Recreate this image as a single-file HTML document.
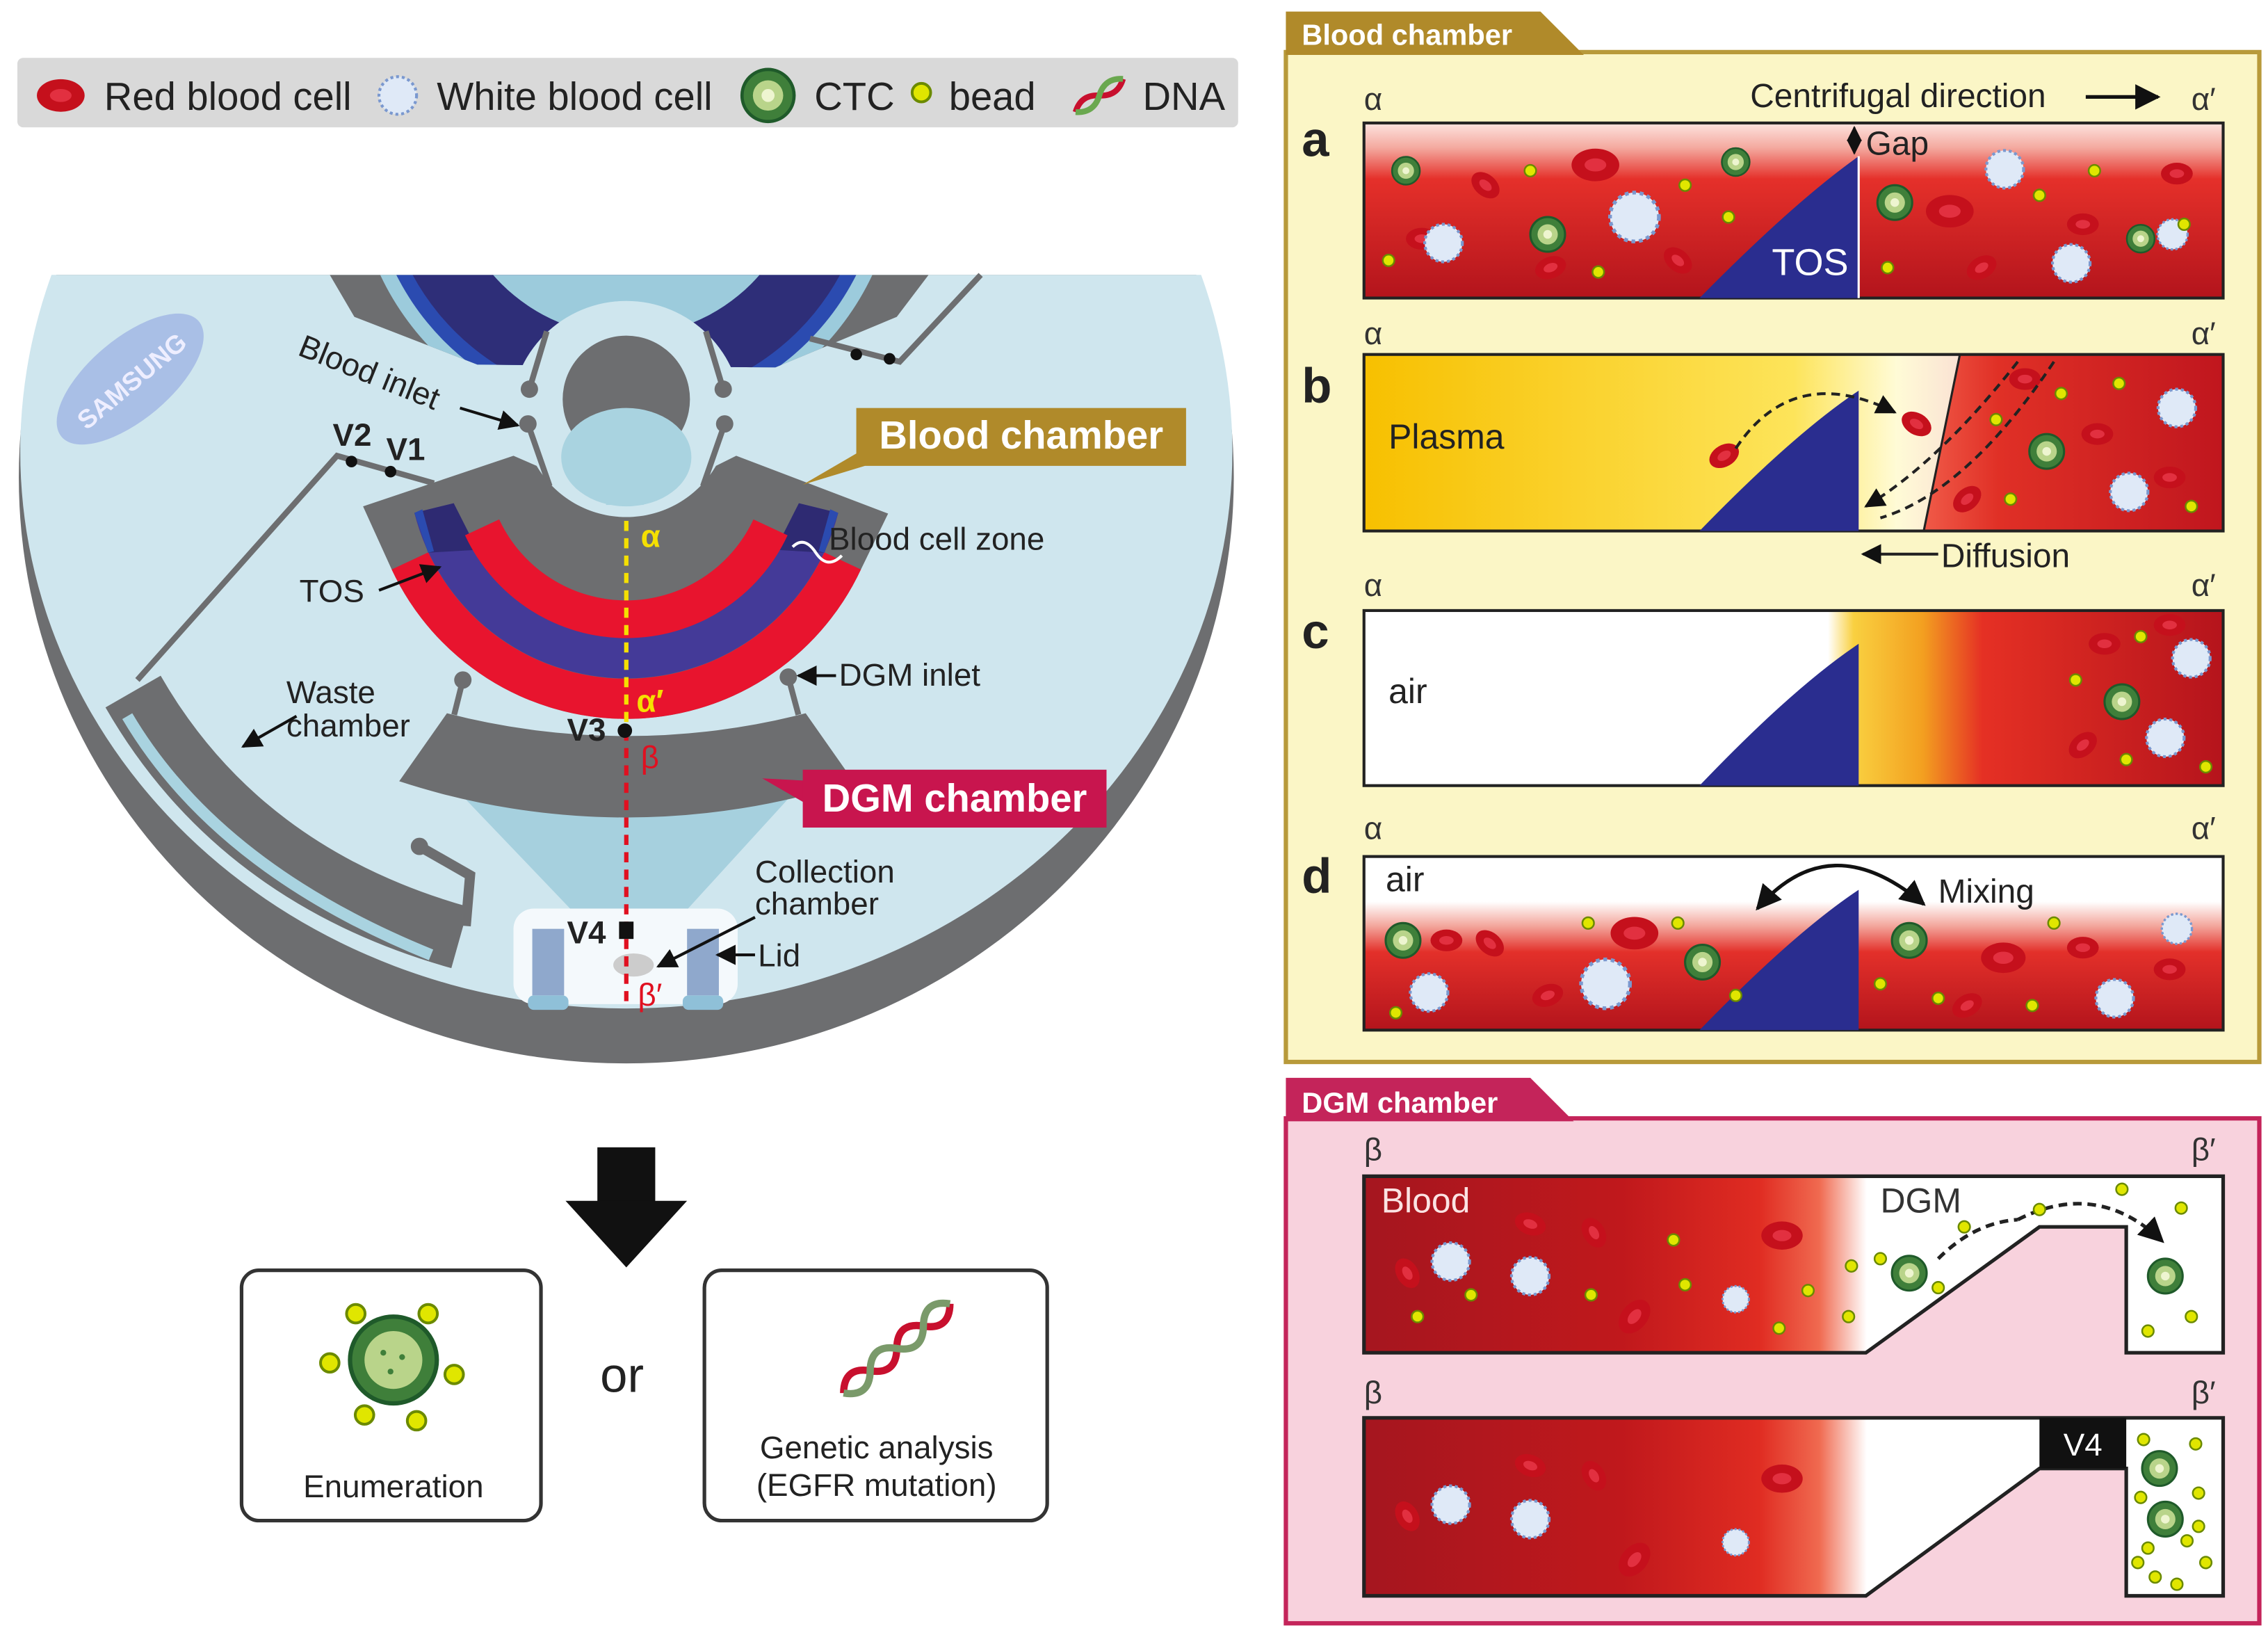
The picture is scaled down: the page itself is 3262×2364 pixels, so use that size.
<!DOCTYPE html>
<html><head><meta charset="utf-8"><style>
html,body{margin:0;padding:0;background:#fff;}
svg{display:block;}
text{font-family:"Liberation Sans",sans-serif;}
</style></head><body>
<svg width="3262" height="2364" viewBox="0 0 1568 1136.3" preserveAspectRatio="none" xmlns="http://www.w3.org/2000/svg">
<defs>
<symbol id="rbc" viewBox="-12 -8 24 16" overflow="visible"><ellipse rx="11" ry="7.5" fill="#c5101c"/><ellipse rx="5" ry="3" fill="#e23040"/></symbol>
<symbol id="wbc" viewBox="-14 -14 28 28" overflow="visible"><circle r="13" fill="#dfe9f7" stroke="#7a98cf" stroke-width="2" stroke-dasharray="2 2"/></symbol>
<symbol id="ctc" viewBox="-13 -13 26 26" overflow="visible"><circle r="12" fill="#3f7f3a" stroke="#1f5a2a" stroke-width="1.5"/><circle r="7" fill="#b9d48a"/><circle r="3" fill="#eef5d0"/></symbol>
<symbol id="bead" viewBox="-5 -5 10 10" overflow="visible"><circle r="4" fill="#e0e600" stroke="#6b8a00" stroke-width="1.2"/></symbol>
<linearGradient id="gA" x1="0" y1="0" x2="0" y2="1"><stop offset="0" stop-color="#fde3df"/><stop offset="0.14" stop-color="#f4aaa0"/><stop offset="0.32" stop-color="#e5302a"/><stop offset="1" stop-color="#b3141c"/></linearGradient>
<linearGradient id="gD" x1="0" y1="0" x2="0" y2="1"><stop offset="0" stop-color="#fff"/><stop offset="0.26" stop-color="#fff"/><stop offset="0.4" stop-color="#f3a69c"/><stop offset="0.55" stop-color="#e3302a"/><stop offset="1" stop-color="#b3141c"/></linearGradient>
<linearGradient id="gB" gradientUnits="userSpaceOnUse" x1="943" y1="0" x2="1537" y2="0"><stop offset="0" stop-color="#f7c000"/><stop offset="0.5" stop-color="#fde45a"/><stop offset="0.62" stop-color="#fffbd6"/><stop offset="0.7" stop-color="#fae0d4"/></linearGradient>
<linearGradient id="gR" gradientUnits="userSpaceOnUse" x1="1330" y1="0" x2="1537" y2="0"><stop offset="0" stop-color="#f05a48"/><stop offset="0.25" stop-color="#e03026"/><stop offset="1" stop-color="#c0161e"/></linearGradient>
<linearGradient id="gC" gradientUnits="userSpaceOnUse" x1="943" y1="0" x2="1537" y2="0"><stop offset="0" stop-color="#fff"/><stop offset="0.54" stop-color="#fff"/><stop offset="0.57" stop-color="#f9d040"/><stop offset="0.65" stop-color="#f3a020"/><stop offset="0.72" stop-color="#e53024"/><stop offset="1" stop-color="#b5141c"/></linearGradient>
<linearGradient id="gE" gradientUnits="userSpaceOnUse" x1="943" y1="0" x2="1537" y2="0"><stop offset="0" stop-color="#a5161f"/><stop offset="0.3" stop-color="#c0181c"/><stop offset="0.46" stop-color="#e02c22"/><stop offset="0.53" stop-color="#f06a50"/><stop offset="0.585" stop-color="#ffffff"/><stop offset="1" stop-color="#ffffff"/></linearGradient>
<clipPath id="discClip"><rect x="0" y="190" width="880" height="600"/></clipPath>
<clipPath id="bowlClip"><path d="M228,190 L245,219 L330,252 L536,254 L620,219 L642,190 Z"/></clipPath>
<marker id="ah" viewBox="0 0 10 10" refX="9" refY="5" markerWidth="7" markerHeight="7" orient="auto-start-reverse"><path d="M0,0 L10,5 L0,10 Z" fill="#111"/></marker>
</defs>
<rect width="1568" height="1136.3" fill="#fff"/>

<!-- legend -->
<rect x="12" y="40" width="844" height="48" rx="4" fill="#d9d9d9"/>
<use href="#rbc" x="-12" y="-8" width="24" height="16" transform="translate(42,66) scale(1.5)"/>
<text x="72" y="76" font-size="27" fill="#222">Red blood cell</text>
<use href="#wbc" transform="translate(275,66)" x="-14" y="-14" width="28" height="28"/>
<text x="302" y="76" font-size="27" fill="#222">White blood cell</text>
<use href="#ctc" transform="translate(531,66) scale(1.5)" x="-13" y="-13" width="26" height="26"/>
<text x="563" y="76" font-size="27" fill="#222">CTC</text>
<use href="#bead" transform="translate(637,64) scale(1.6)" x="-5" y="-5" width="10" height="10"/>
<text x="656" y="76" font-size="27" fill="#222">bead</text>
<g transform="translate(760,66) rotate(-35)"><path d="M-20,0 Q-10,-8 0,0 T20,0" stroke="#c8102e" stroke-width="4" fill="none"/><path d="M-20,0 Q-10,8 0,0 T20,0" stroke="#6aa84f" stroke-width="4" fill="none"/></g>
<text x="790" y="76" font-size="27" fill="#222">DNA</text>

<!-- disc -->
<g clip-path="url(#discClip)">
<ellipse cx="433" cy="330" rx="420" ry="405" fill="#6d6e70"/>
<ellipse cx="433" cy="312" rx="419" ry="385" fill="#cfe6ee"/>
<g clip-path="url(#bowlClip)">
<circle cx="433" cy="110" r="260" fill="#6d6e70"/>
<circle cx="433" cy="110" r="188" fill="#9ccbdc"/>
<circle cx="433" cy="110" r="178" fill="#2b4bb0"/>
<circle cx="433" cy="110" r="168" fill="#2e2e78"/>
<circle cx="433" cy="110" r="122" fill="#9ccbdc"/>
</g>
<circle cx="433" cy="288" r="80" fill="#cfe6ee"/>
</g>
<ellipse cx="90" cy="262" rx="62" ry="28" transform="rotate(-40 90 262)" fill="#a9bfe6"/>
<text x="90" y="270" font-size="18" fill="#eef" text-anchor="middle" transform="rotate(-40 90 262)" font-weight="bold">SAMSUNG</text>

<!-- channels -->
<path d="M95,470 L233,315 L300,334" fill="none" stroke="#6d6e70" stroke-width="4"/>
<circle cx="243" cy="319" r="4" fill="#111"/><circle cx="270" cy="326" r="4" fill="#111"/>
<path d="M560,234 L622,250 L678,190" fill="none" stroke="#6d6e70" stroke-width="4"/>
<circle cx="592" cy="245" r="4" fill="#111"/><circle cx="615" cy="248" r="4" fill="#111"/>

<!-- waste chamber -->
<path d="M92,478 Q165,605 318,648" fill="none" stroke="#6d6e70" stroke-width="44"/>
<path d="M88,495 Q150,600 298,660" fill="none" stroke="#a9d3e0" stroke-width="8"/>
<path d="M290,585 L325,605 L322,640" fill="none" stroke="#6d6e70" stroke-width="7"/>
<circle cx="290" cy="585" r="6" fill="#6d6e70"/>

<!-- funnel -->
<polygon points="310,540 556,540 472,632 398,632" fill="#a6d0de"/>
<!-- blood chamber fan -->
<path d="M251,350 L355,315 L371,322 A72 72 0 0 0 495,322 L509,315 L614,355 L595.2,393.6 A179 179 0 0 1 270.8,393.6 Z" fill="#6d6e70"/>
<path d="M270.8,393.6 A179 179 0 0 0 595.2,393.6 L569.9,381.8 A151 151 0 0 1 296.1,381.8 Z" fill="#e8142e"/>
<path d="M286.5,354.5 A151 151 0 0 0 579.5,354.5 L552.3,347.8 A123 123 0 0 1 313.7,347.8 Z" fill="#443a98"/>
<path d="M286.5,354.5 L313.7,347.8 L330,380 L296,382 Z" fill="#2e2a72"/>
<path d="M579.5,354.5 L552.3,347.8 L536,380 L570,382 Z" fill="#2e2a72"/>
<path d="M286.5,354.5 L292,352 L300,381 L296,382 Z" fill="#2b4bb0"/>
<path d="M579.5,354.5 L574,352 L566,381 L570,382 Z" fill="#2b4bb0"/>
<path d="M321.5,370 A123 123 0 0 0 544.5,370 L520.9,359 A97 97 0 0 1 345.1,359 Z" fill="#e8142e"/>
<!-- central circle -->
<circle cx="433" cy="276" r="44" fill="#6d6e70"/>
<ellipse cx="433" cy="316" rx="45" ry="34" fill="#a9d3e0"/>
<rect x="419" y="318" width="26" height="31" fill="#a9d3e0"/>
<path d="M378,229 L366,269 M365,293 L380,336 M488,229 L500,269 M501,293 L486,336" fill="none" stroke="#6d6e70" stroke-width="4"/>
<circle cx="366" cy="269" r="6" fill="#6d6e70"/><circle cx="365" cy="293" r="6" fill="#6d6e70"/>
<circle cx="500" cy="269" r="6" fill="#6d6e70"/><circle cx="501" cy="293" r="6" fill="#6d6e70"/>
<!-- DGM band -->
<path d="M309,493 A496 496 0 0 0 557,493 L590,540 A505 505 0 0 1 276,540 Z" fill="#6d6e70"/>
<circle cx="320" cy="470" r="6" fill="#6d6e70"/><path d="M320,470 L314,494" stroke="#6d6e70" stroke-width="4"/>
<circle cx="545" cy="468" r="6" fill="#6d6e70"/><path d="M545,468 L552,494" stroke="#6d6e70" stroke-width="4"/>
<!-- collection -->
<rect x="355" y="628" width="155" height="66" rx="14" fill="#f4f9fc"/>
<rect x="368" y="642" width="22" height="46" fill="#8fa8cc"/>
<rect x="475" y="642" width="22" height="46" fill="#8fa8cc"/>
<rect x="365" y="688" width="28" height="10" rx="4" fill="#8fc0d8"/>
<rect x="472" y="688" width="28" height="10" rx="4" fill="#8fc0d8"/>
<ellipse cx="438" cy="667" rx="14" ry="8" fill="#cccccc"/>
<!-- dashed axis -->
<line x1="433" y1="360" x2="433" y2="500" stroke="#f5e000" stroke-width="3" stroke-dasharray="7 5"/>
<line x1="433" y1="505" x2="433" y2="695" stroke="#e01020" stroke-width="3" stroke-dasharray="7 5"/>
<circle cx="432" cy="505" r="5" fill="#111"/>
<rect x="428" y="637" width="10" height="12" fill="#111"/>
<text x="443" y="378" font-size="22" fill="#f5e000" font-weight="bold">α</text>
<text x="440" y="492" font-size="22" fill="#f5e000" font-weight="bold">α′</text>
<text x="443" y="531" font-size="22" fill="#e01020">β</text>
<text x="441" y="695" font-size="22" fill="#e01020">β′</text>
<!-- labels -->
<g font-size="22" fill="#222">
<text x="205" y="245" transform="rotate(22 205 245)">Blood inlet</text>
<text x="230" y="308" font-weight="bold">V2</text><text x="267" y="318" font-weight="bold">V1</text>
<text x="573" y="380">Blood cell zone</text>
<text x="207" y="416">TOS</text>
<text x="198" y="486">Waste</text><text x="198" y="509">chamber</text>
<text x="580" y="474">DGM inlet</text>
<text x="392" y="512" font-weight="bold">V3</text>
<text x="392" y="652" font-weight="bold">V4</text>
<text x="522" y="610">Collection</text><text x="522" y="632">chamber</text>
<text x="524" y="668">Lid</text>
</g>
<g stroke="#111" stroke-width="2" fill="none" marker-end="url(#ah)">
<path d="M318,282 L358,294"/><path d="M262,408 L304,392"/><path d="M205,495 L168,516"/>
<path d="M578,467 L552,467"/><path d="M522,634 L455,668"/><path d="M522,660 L496,660"/>
</g>
<path d="M548,378 Q556,370 564,382 T582,384" stroke="#fff" stroke-width="2" fill="none"/>
<!-- callouts -->
<polygon points="598,310 598,322 555,335" fill="#b08a2a"/>
<rect x="592" y="282" width="228" height="40" fill="#b08a2a"/>
<text x="706" y="310" font-size="27" font-weight="bold" fill="#fff" text-anchor="middle">Blood chamber</text>
<polygon points="565,540 565,560 527,538" fill="#c8154e"/>
<rect x="555" y="532" width="210" height="40" fill="#c8154e"/>
<text x="660" y="561" font-size="27" font-weight="bold" fill="#fff" text-anchor="middle">DGM chamber</text>

<!-- bottom -->
<rect x="413" y="793" width="40" height="40" fill="#111"/>
<polygon points="391,830 475,830 433,876" fill="#111"/>
<rect x="167" y="878" width="207" height="173" rx="12" fill="#fff" stroke="#333" stroke-width="2.5"/>
<rect x="487" y="878" width="237" height="173" rx="12" fill="#fff" stroke="#333" stroke-width="2.5"/>
<text x="430" y="962" font-size="34" fill="#222" text-anchor="middle">or</text>
<circle cx="272" cy="940" r="30" fill="#3f7f3a" stroke="#1f5a2a" stroke-width="3"/>
<circle cx="272" cy="940" r="20" fill="#b9d48a"/>
<circle cx="265" cy="935" r="2" fill="#3f7f3a"/><circle cx="278" cy="938" r="2" fill="#3f7f3a"/><circle cx="270" cy="948" r="2" fill="#3f7f3a"/>
<g>
<use href="#bead" transform="translate(246,908) scale(1.6)" x="-5" y="-5" width="10" height="10"/>
<use href="#bead" transform="translate(296,908) scale(1.6)" x="-5" y="-5" width="10" height="10"/>
<use href="#bead" transform="translate(228,942) scale(1.6)" x="-5" y="-5" width="10" height="10"/>
<use href="#bead" transform="translate(314,950) scale(1.6)" x="-5" y="-5" width="10" height="10"/>
<use href="#bead" transform="translate(252,978) scale(1.6)" x="-5" y="-5" width="10" height="10"/>
<use href="#bead" transform="translate(288,982) scale(1.6)" x="-5" y="-5" width="10" height="10"/>
</g>
<text x="272" y="1035" font-size="22" fill="#222" text-anchor="middle">Enumeration</text>
<g transform="translate(620,932) rotate(-40)"><path d="M-48,0 Q-36,-14 -24,0 T0,0 T24,0 T48,0" stroke="#c8102e" stroke-width="5" fill="none"/><path d="M-48,0 Q-36,14 -24,0 T0,0 T24,0 T48,0" stroke="#7a9a6a" stroke-width="5" fill="none"/></g>
<text x="606" y="1008" font-size="22" fill="#222" text-anchor="middle">Genetic analysis</text>
<text x="606" y="1034" font-size="22" fill="#222" text-anchor="middle">(EGFR mutation)</text>

<!-- Blood chamber panel -->
<rect x="889" y="36" width="673" height="698" fill="#fbf6c6" stroke="#b89a3a" stroke-width="3"/>
<polygon points="889,8 1065,8 1095,38 889,38" fill="#b08a2a"/>
<text x="900" y="31" font-size="20" font-weight="bold" fill="#fff">Blood chamber</text>
<g font-size="34" font-weight="bold" fill="#222"><text x="900" y="108">a</text><text x="900" y="278">b</text><text x="900" y="448">c</text><text x="900" y="617">d</text><text x="900" y="842">e</text><text x="900" y="1012">f</text></g>
<g font-size="22" fill="#333">
<text x="943" y="76">α</text><text x="1515" y="76">α′</text>
<text x="943" y="238">α</text><text x="1515" y="238">α′</text>
<text x="943" y="412">α</text><text x="1515" y="412">α′</text>
<text x="943" y="580">α</text><text x="1515" y="580">α′</text>
</g>
<text x="1210" y="74" font-size="23" fill="#222">Centrifugal direction</text>
<line x1="1442" y1="67" x2="1492" y2="67" stroke="#111" stroke-width="2.5" marker-end="url(#ah)"/>

<!-- a -->
<rect x="943" y="85" width="594" height="121" fill="url(#gA)" stroke="#222" stroke-width="2"/>
<path d="M1175,206 Q1240,140 1285,108 L1285,206 Z" fill="#2a2d8f"/>
<line x1="1285" y1="108" x2="1285" y2="206" stroke="#fff" stroke-width="1.5"/>
<text x="1225" y="190" font-size="26" fill="#fff">TOS</text>
<line x1="1282" y1="88" x2="1282" y2="106" stroke="#111" stroke-width="1.5" marker-end="url(#ah)" marker-start="url(#ah)"/>
<text x="1290" y="107" font-size="23" fill="#222">Gap</text>
<g>
<use href="#rbc" x="-12" y="-8" width="24" height="16" transform="translate(1103,114) scale(1.5)"/>
<use href="#rbc" x="-12" y="-8" width="24" height="16" transform="translate(1027,128) rotate(40)"/>
<use href="#rbc" x="-12" y="-8" width="24" height="16" transform="translate(983,165)"/>
<use href="#rbc" x="-12" y="-8" width="24" height="16" transform="translate(1072,185) rotate(-20)"/>
<use href="#rbc" x="-12" y="-8" width="24" height="16" transform="translate(1160,180) rotate(40)"/>
<use href="#rbc" x="-12" y="-8" width="24" height="16" transform="translate(1348,146) scale(1.5)"/>
<use href="#rbc" x="-12" y="-8" width="24" height="16" transform="translate(1440,155)"/>
<use href="#rbc" x="-12" y="-8" width="24" height="16" transform="translate(1505,120)"/>
<use href="#rbc" x="-12" y="-8" width="24" height="16" transform="translate(1370,185) rotate(-30)"/>
<use href="#wbc" x="-14" y="-14" width="28" height="28" transform="translate(998,168)"/>
<use href="#wbc" x="-14" y="-14" width="28" height="28" transform="translate(1130,150) scale(1.3)"/>
<use href="#wbc" x="-14" y="-14" width="28" height="28" transform="translate(1386,117)"/>
<use href="#wbc" x="-14" y="-14" width="28" height="28" transform="translate(1432,182)"/>
<use href="#wbc" x="-14" y="-14" width="28" height="28" transform="translate(1502,162) scale(0.8)"/>
<use href="#ctc" x="-13" y="-13" width="26" height="26" transform="translate(972,118) scale(0.8)"/>
<use href="#ctc" x="-13" y="-13" width="26" height="26" transform="translate(1070,162)"/>
<use href="#ctc" x="-13" y="-13" width="26" height="26" transform="translate(1200,112) scale(0.8)"/>
<use href="#ctc" x="-13" y="-13" width="26" height="26" transform="translate(1310,140)"/>
<use href="#ctc" x="-13" y="-13" width="26" height="26" transform="translate(1480,165) scale(0.8)"/>
</g>
<g>
<use href="#bead" x="-5" y="-5" width="10" height="10" transform="translate(960,180)"/>
<use href="#bead" x="-5" y="-5" width="10" height="10" transform="translate(1058,118)"/>
<use href="#bead" x="-5" y="-5" width="10" height="10" transform="translate(1105,188)"/>
<use href="#bead" x="-5" y="-5" width="10" height="10" transform="translate(1165,128)"/>
<use href="#bead" x="-5" y="-5" width="10" height="10" transform="translate(1195,150)"/>
<use href="#bead" x="-5" y="-5" width="10" height="10" transform="translate(1305,185)"/>
<use href="#bead" x="-5" y="-5" width="10" height="10" transform="translate(1410,135)"/>
<use href="#bead" x="-5" y="-5" width="10" height="10" transform="translate(1448,118)"/>
<use href="#bead" x="-5" y="-5" width="10" height="10" transform="translate(1510,155)"/>
</g>

<!-- b -->
<rect x="943" y="245" width="594" height="122" fill="url(#gB)"/>
<polygon points="1355,245 1537,245 1537,367 1330,367" fill="url(#gR)"/>
<rect x="943" y="245" width="594" height="122" fill="none" stroke="#222" stroke-width="2"/>
<line x1="1355" y1="245" x2="1330" y2="367" stroke="#222" stroke-width="1.5"/>
<path d="M1175,367 Q1240,300 1285,270 L1285,367 Z" fill="#2a2d8f"/>
<text x="960" y="310" font-size="24" fill="#222">Plasma</text>
<use href="#rbc" x="-12" y="-8" width="24" height="16" transform="translate(1192,315) rotate(-30)"/>
<use href="#rbc" x="-12" y="-8" width="24" height="16" transform="translate(1325,293) rotate(30)"/>
<use href="#rbc" x="-12" y="-8" width="24" height="16" transform="translate(1360,345) rotate(-40)"/>
<use href="#rbc" x="-12" y="-8" width="24" height="16" transform="translate(1450,300)"/>
<use href="#rbc" x="-12" y="-8" width="24" height="16" transform="translate(1500,330)"/>
<use href="#rbc" x="-12" y="-8" width="24" height="16" transform="translate(1400,262)"/>
<use href="#ctc" x="-13" y="-13" width="26" height="26" transform="translate(1415,312)"/>
<use href="#wbc" x="-14" y="-14" width="28" height="28" transform="translate(1505,282)"/>
<use href="#wbc" x="-14" y="-14" width="28" height="28" transform="translate(1472,340)"/>
<use href="#bead" x="-5" y="-5" width="10" height="10" transform="translate(1425,272)"/>
<use href="#bead" x="-5" y="-5" width="10" height="10" transform="translate(1465,265)"/>
<use href="#bead" x="-5" y="-5" width="10" height="10" transform="translate(1390,345)"/>
<use href="#bead" x="-5" y="-5" width="10" height="10" transform="translate(1515,350)"/>
<use href="#bead" x="-5" y="-5" width="10" height="10" transform="translate(1380,290)"/>
<g stroke="#222" stroke-width="2" stroke-dasharray="6 4" fill="none">
<path d="M1200,310 Q1240,250 1310,285" marker-end="url(#ah)"/>
<path d="M1395,250 Q1340,320 1290,350" marker-end="url(#ah)"/>
<path d="M1420,250 Q1360,340 1300,358"/>
</g>
<line x1="1340" y1="383" x2="1288" y2="383" stroke="#222" stroke-width="2" marker-end="url(#ah)"/>
<text x="1342" y="392" font-size="23" fill="#222">Diffusion</text>

<!-- c -->
<rect x="943" y="422" width="594" height="121" fill="url(#gC)" stroke="#222" stroke-width="2"/>
<path d="M1175,543 Q1240,475 1285,445 L1285,543 Z" fill="#2a2d8f"/>
<text x="960" y="486" font-size="24" fill="#222">air</text>
<use href="#ctc" x="-13" y="-13" width="26" height="26" transform="translate(1467,485)"/>
<use href="#wbc" x="-14" y="-14" width="28" height="28" transform="translate(1515,455)"/>
<use href="#wbc" x="-14" y="-14" width="28" height="28" transform="translate(1497,510)"/>
<use href="#rbc" x="-12" y="-8" width="24" height="16" transform="translate(1455,445)"/>
<use href="#rbc" x="-12" y="-8" width="24" height="16" transform="translate(1440,515) rotate(-40)"/>
<use href="#rbc" x="-12" y="-8" width="24" height="16" transform="translate(1500,432)"/>
<use href="#bead" x="-5" y="-5" width="10" height="10" transform="translate(1435,470)"/>
<use href="#bead" x="-5" y="-5" width="10" height="10" transform="translate(1480,440)"/>
<use href="#bead" x="-5" y="-5" width="10" height="10" transform="translate(1470,525)"/>
<use href="#bead" x="-5" y="-5" width="10" height="10" transform="translate(1525,530)"/>

<!-- d -->
<rect x="943" y="592" width="594" height="120" fill="url(#gD)" stroke="#222" stroke-width="2"/>
<path d="M1175,712 Q1240,645 1285,615 L1285,712 Z" fill="#2a2d8f"/>
<text x="958" y="616" font-size="24" fill="#222">air</text>
<path d="M1215,628 Q1265,570 1330,625" fill="none" stroke="#111" stroke-width="2.5" marker-end="url(#ah)" marker-start="url(#ah)"/>
<text x="1340" y="624" font-size="23" fill="#222">Mixing</text>
<use href="#rbc" x="-12" y="-8" width="24" height="16" transform="translate(1130,645) scale(1.5)"/>
<use href="#rbc" x="-12" y="-8" width="24" height="16" transform="translate(1030,652) rotate(40)"/>
<use href="#rbc" x="-12" y="-8" width="24" height="16" transform="translate(1000,650)"/>
<use href="#rbc" x="-12" y="-8" width="24" height="16" transform="translate(1070,688) rotate(-20)"/>
<use href="#rbc" x="-12" y="-8" width="24" height="16" transform="translate(1385,662) scale(1.4)"/>
<use href="#rbc" x="-12" y="-8" width="24" height="16" transform="translate(1440,655)"/>
<use href="#rbc" x="-12" y="-8" width="24" height="16" transform="translate(1500,670)"/>
<use href="#rbc" x="-12" y="-8" width="24" height="16" transform="translate(1360,695) rotate(-30)"/>
<use href="#wbc" x="-14" y="-14" width="28" height="28" transform="translate(988,686)"/>
<use href="#wbc" x="-14" y="-14" width="28" height="28" transform="translate(1110,680) scale(1.3)"/>
<use href="#wbc" x="-14" y="-14" width="28" height="28" transform="translate(1505,642) scale(0.8)"/>
<use href="#wbc" x="-14" y="-14" width="28" height="28" transform="translate(1462,690)"/>
<use href="#ctc" x="-13" y="-13" width="26" height="26" transform="translate(970,650)"/>
<use href="#ctc" x="-13" y="-13" width="26" height="26" transform="translate(1177,665)"/>
<use href="#ctc" x="-13" y="-13" width="26" height="26" transform="translate(1320,650)"/>
<use href="#bead" x="-5" y="-5" width="10" height="10" transform="translate(965,700)"/>
<use href="#bead" x="-5" y="-5" width="10" height="10" transform="translate(1098,638)"/>
<use href="#bead" x="-5" y="-5" width="10" height="10" transform="translate(1160,638)"/>
<use href="#bead" x="-5" y="-5" width="10" height="10" transform="translate(1200,688)"/>
<use href="#bead" x="-5" y="-5" width="10" height="10" transform="translate(1300,680)"/>
<use href="#bead" x="-5" y="-5" width="10" height="10" transform="translate(1340,690)"/>
<use href="#bead" x="-5" y="-5" width="10" height="10" transform="translate(1405,695)"/>
<use href="#bead" x="-5" y="-5" width="10" height="10" transform="translate(1420,638)"/>

<!-- DGM panel -->
<rect x="889" y="773" width="673" height="349" fill="#f8d2dd" stroke="#c4245a" stroke-width="3"/>
<polygon points="889,745 1058,745 1088,775 889,775" fill="#c4245a"/>
<text x="900" y="769" font-size="20" font-weight="bold" fill="#fff">DGM chamber</text>
<g font-size="22" fill="#333"><text x="943" y="802">β</text><text x="1515" y="802">β′</text><text x="943" y="970">β</text><text x="1515" y="970">β′</text></g>

<!-- e -->
<path d="M943,813 H1537 V935 H1470 V848 H1410 L1290,935 H943 Z" fill="url(#gE)" stroke="#222" stroke-width="2.5"/>
<text x="955" y="838" font-size="24" fill="#fbe3e3">Blood</text>
<text x="1300" y="838" font-size="24" fill="#333">DGM</text>
<path d="M1395,843 Q1450,815 1495,858" fill="none" stroke="#222" stroke-width="2.5" stroke-dasharray="6 4" marker-end="url(#ah)"/>
<path d="M1340,870 Q1365,845 1395,843" fill="none" stroke="#222" stroke-width="2.5" stroke-dasharray="6 4"/>
<use href="#wbc" x="-14" y="-14" width="28" height="28" transform="translate(1003,872)"/>
<use href="#wbc" x="-14" y="-14" width="28" height="28" transform="translate(1058,882)"/>
<use href="#wbc" x="-14" y="-14" width="28" height="28" transform="translate(1200,898) scale(0.7)"/>
<use href="#rbc" x="-12" y="-8" width="24" height="16" transform="translate(1058,846) rotate(20)"/>
<use href="#rbc" x="-12" y="-8" width="24" height="16" transform="translate(1102,852) rotate(60)"/>
<use href="#rbc" x="-12" y="-8" width="24" height="16" transform="translate(1232,854) scale(1.3)"/>
<use href="#rbc" x="-12" y="-8" width="24" height="16" transform="translate(973,880) rotate(60)"/>
<use href="#rbc" x="-12" y="-8" width="24" height="16" transform="translate(1130,910) rotate(-50) scale(1.2)"/>
<use href="#ctc" x="-13" y="-13" width="26" height="26" transform="translate(1320,880)"/>
<use href="#ctc" x="-13" y="-13" width="26" height="26" transform="translate(1497,882)"/>
<g>
<use href="#bead" x="-5" y="-5" width="10" height="10" transform="translate(980,910)"/>
<use href="#bead" x="-5" y="-5" width="10" height="10" transform="translate(1017,895)"/>
<use href="#bead" x="-5" y="-5" width="10" height="10" transform="translate(1100,895)"/>
<use href="#bead" x="-5" y="-5" width="10" height="10" transform="translate(1157,857)"/>
<use href="#bead" x="-5" y="-5" width="10" height="10" transform="translate(1165,888)"/>
<use href="#bead" x="-5" y="-5" width="10" height="10" transform="translate(1230,918)"/>
<use href="#bead" x="-5" y="-5" width="10" height="10" transform="translate(1250,892)"/>
<use href="#bead" x="-5" y="-5" width="10" height="10" transform="translate(1280,875)"/>
<use href="#bead" x="-5" y="-5" width="10" height="10" transform="translate(1278,910)"/>
<use href="#bead" x="-5" y="-5" width="10" height="10" transform="translate(1358,848)"/>
<use href="#bead" x="-5" y="-5" width="10" height="10" transform="translate(1410,836)"/>
<use href="#bead" x="-5" y="-5" width="10" height="10" transform="translate(1467,822)"/>
<use href="#bead" x="-5" y="-5" width="10" height="10" transform="translate(1508,835)"/>
<use href="#bead" x="-5" y="-5" width="10" height="10" transform="translate(1485,920)"/>
<use href="#bead" x="-5" y="-5" width="10" height="10" transform="translate(1515,910)"/>
<use href="#bead" x="-5" y="-5" width="10" height="10" transform="translate(1300,870)"/>
<use href="#bead" x="-5" y="-5" width="10" height="10" transform="translate(1340,890)"/>
</g>

<!-- f -->
<path d="M943,980 H1537 V1103 H1470 V1015 H1410 L1290,1103 H943 Z" fill="url(#gE)" stroke="#222" stroke-width="2.5"/>
<rect x="1410" y="980" width="60" height="35" fill="#111"/>
<text x="1440" y="1006" font-size="22" fill="#fff" text-anchor="middle">V4</text>
<use href="#wbc" x="-14" y="-14" width="28" height="28" transform="translate(1003,1040)"/>
<use href="#wbc" x="-14" y="-14" width="28" height="28" transform="translate(1058,1050)"/>
<use href="#wbc" x="-14" y="-14" width="28" height="28" transform="translate(1200,1066) scale(0.7)"/>
<use href="#rbc" x="-12" y="-8" width="24" height="16" transform="translate(1058,1013) rotate(20)"/>
<use href="#rbc" x="-12" y="-8" width="24" height="16" transform="translate(1102,1020) rotate(60)"/>
<use href="#rbc" x="-12" y="-8" width="24" height="16" transform="translate(1232,1022) scale(1.3)"/>
<use href="#rbc" x="-12" y="-8" width="24" height="16" transform="translate(973,1048) rotate(60)"/>
<use href="#rbc" x="-12" y="-8" width="24" height="16" transform="translate(1130,1078) rotate(-50) scale(1.2)"/>
<use href="#ctc" x="-13" y="-13" width="26" height="26" transform="translate(1493,1015)"/>
<use href="#ctc" x="-13" y="-13" width="26" height="26" transform="translate(1497,1050)"/>
<g>
<use href="#bead" x="-5" y="-5" width="10" height="10" transform="translate(1482,995)"/>
<use href="#bead" x="-5" y="-5" width="10" height="10" transform="translate(1518,998)"/>
<use href="#bead" x="-5" y="-5" width="10" height="10" transform="translate(1480,1035)"/>
<use href="#bead" x="-5" y="-5" width="10" height="10" transform="translate(1520,1032)"/>
<use href="#bead" x="-5" y="-5" width="10" height="10" transform="translate(1512,1065)"/>
<use href="#bead" x="-5" y="-5" width="10" height="10" transform="translate(1485,1070)"/>
<use href="#bead" x="-5" y="-5" width="10" height="10" transform="translate(1525,1080)"/>
<use href="#bead" x="-5" y="-5" width="10" height="10" transform="translate(1490,1090)"/>
<use href="#bead" x="-5" y="-5" width="10" height="10" transform="translate(1505,1095)"/>
<use href="#bead" x="-5" y="-5" width="10" height="10" transform="translate(1478,1080)"/>
<use href="#bead" x="-5" y="-5" width="10" height="10" transform="translate(1520,1055)"/>
</g>
</svg>
</body></html>
